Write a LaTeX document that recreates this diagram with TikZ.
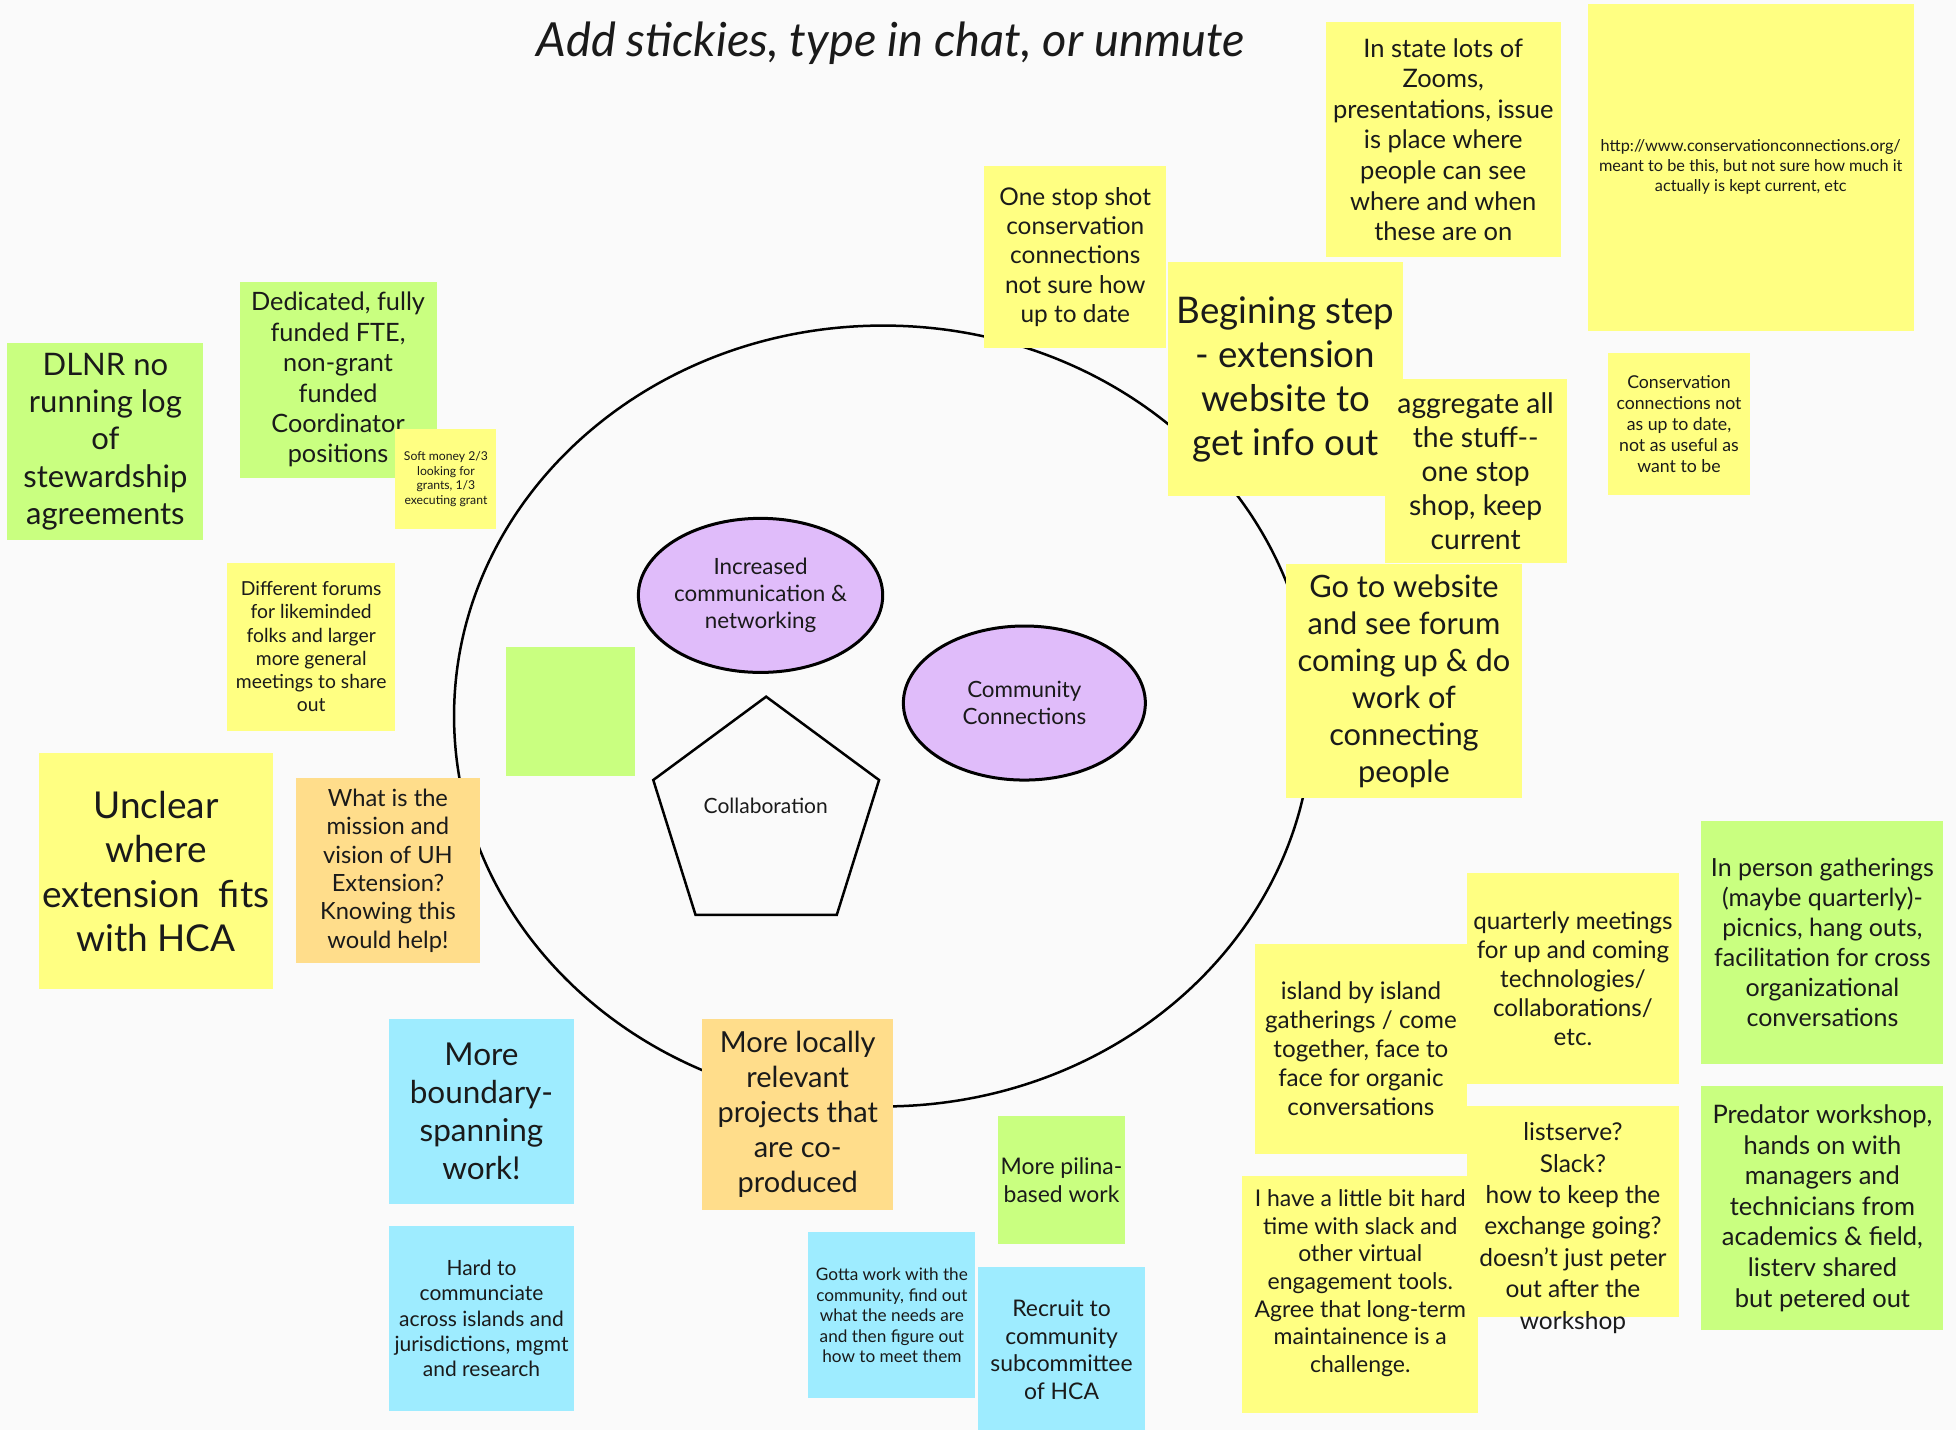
\documentclass[tikz,border=0pt]{standalone}
\usepackage{fontspec}
\setmainfont{Lato}
\usetikzlibrary{shapes.geometric}
\definecolor{bg}{RGB}{250,250,250}
\definecolor{sy}{RGB}{255,255,130}
\definecolor{sg}{RGB}{201,255,128}
\definecolor{sb}{RGB}{158,236,255}
\definecolor{so}{RGB}{255,221,139}
\definecolor{pu}{RGB}{224,188,250}
\definecolor{ink}{RGB}{26,26,26}
\tikzset{
  stickybox/.style={rectangle,draw=none,inner sep=0pt,outer sep=0pt},
  stickytext/.style={align=center,text=ink,inner sep=0pt,outer sep=0pt},
  theme/.style={ellipse,draw=black,line width=3pt,fill=pu,align=center,text=ink,inner sep=0pt,
    font={\fontsize{22.4}{27.4}\selectfont}},
  listserve-shift/.style={yshift=-9.5pt},
}
\newcommand\stk[9]{%
  \node[stickybox,fill=#2,minimum width={(#5-#3)*1.2474pt},minimum height={(#6-#4)*1.2474pt}]
    (#1) at ({(#3+#5)/2},{(#4+#6)/2}) {};
  \node[stickytext,font={\fontsize{#7}{#8}\selectfont},#1-shift/.try] (#1-t) at (#1.center) {#9};}
\begin{document}
\begin{tikzpicture}[x=1.2474pt,y=-1.2474pt]
\fill[bg] (0,0) rectangle (1568.07,1146.39);
\useasboundingbox (0,0) rectangle (1568.07,1146.39);

\node[font={\fontsize{47}{56}\selectfont\itshape},text=ink] (title) at (714,35) {Add stickies, type in chat, or unmute};

% big circle
\node[ellipse,draw=black,line width=2.5pt,minimum width={688*1.2474pt},minimum height={626*1.2474pt},inner sep=0pt] (big) at (708,574) {};

% themes
\node[theme,minimum width={194*1.2474pt},minimum height={123.5*1.2474pt}] (icn) at (609.7,477.3) {Increased\\communication \&\\networking};
\node[theme,minimum width={194*1.2474pt},minimum height={123.5*1.2474pt}] (cc) at (821.2,563.6) {Community\\Connections};

% pentagon
\coordinate (p1) at (614.2,558.5);
\coordinate (p2) at (704.7,625.3);
\coordinate (p3) at (670.8,733.5);
\coordinate (p4) at (557.6,733.5);
\coordinate (p5) at (523.7,625.3);
\draw[line width=2.5pt,line join=miter] (p1)--(p2)--(p3)--(p4)--(p5)--cycle;
\node[text=ink,font={\fontsize{21}{25}\selectfont}] (collab) at (613.9,646) {Collaboration};

% empty green sticky
\node[stickybox,fill=sg,minimum width={103.4*1.2474pt},minimum height={103.2*1.2474pt}] (blank) at (457,570.5) {};

% stickies
\stk{dlnr}{sg}{6}{275}{163}{433}{31}{37.4}{DLNR no\\running log\\of\\stewardship\\agreements}
\stk{fte}{sg}{192}{226}{350}{383}{25.3}{30.4}{Dedicated, fully\\funded FTE,\\non-grant\\funded\\Coordinator\\positions}
\stk{soft}{sy}{317}{344}{398}{424}{12.2}{14.6}{Soft money 2/3\\looking for\\grants, 1/3\\executing grant}
\stk{forums}{sy}{182}{451}{317}{586}{19.3}{23.2}{Different forums\\for likeminded\\folks and larger\\more general\\meetings to share\\out}
\stk{unclear}{sy}{31}{604}{219}{793}{37}{44.5}{Unclear\\where\\extension\ \ fits\\with HCA}
\stk{mission}{so}{237}{624}{385}{772}{23.7}{28.4}{What is the\\mission and\\vision of UH\\Extension?\\Knowing this\\would help!}
\stk{boundary}{sb}{312}{817}{460}{965}{31.5}{37.8}{More\\boundary-\\spanning\\work!}
\stk{hard}{sb}{312}{983}{460}{1131}{21}{25.3}{Hard to\\communciate\\across islands and\\jurisdictions, mgmt\\and research}
\stk{locally}{so}{563}{817}{716}{970}{29}{34.9}{More locally\\relevant\\projects that\\are co-\\produced}
\stk{pilina}{sg}{800}{895}{902}{997}{22.9}{27.4}{More pilina-\\based work}
\stk{gotta}{sb}{648}{988}{782}{1121}{17.2}{20.6}{Gotta work with the\\community, find out\\what the needs are\\and then figure out\\how to meet them}
\stk{recruit}{sb}{784}{1016}{918}{1148}{22.9}{27.4}{Recruit to\\community\\subcommittee\\of HCA}
\stk{onestop}{sy}{789}{133}{935}{279}{24.4}{29.3}{One stop shot\\conservation\\connections\\not sure how\\up to date}
\stk{instate}{sy}{1063}{18}{1251}{206}{25.5}{30.6}{In state lots of\\Zooms,\\presentations, issue\\is place where\\people can see\\where and when\\these are on}
\stk{url}{sy}{1273}{3}{1534}{265}{16.3}{20}{http://www.conservationconnections.org/\\meant to be this, but not sure how much it\\actually is kept current, etc}
\stk{begin}{sy}{936}{210}{1125}{398}{36.7}{44}{Begining step\\- extension\\website to\\get info out}
\stk{aggr}{sy}{1110}{304}{1256}{451}{28.3}{34}{aggregate all\\the stuff-{}-\\one stop\\shop, keep\\current}
\stk{cons}{sy}{1289}{283}{1403}{397}{17.7}{21.2}{Conservation\\connections not\\as up to date,\\not as useful as\\want to be}
\stk{goweb}{sy}{1031}{452}{1220}{640}{30.8}{36.9}{Go to website\\and see forum\\coming up \& do\\work of\\connecting\\people}
\stk{inperson}{sg}{1364}{658}{1558}{853}{25}{29.9}{In person gatherings\\(maybe quarterly)-\\picnics, hang outs,\\facilitation for cross\\organizational\\conversations}
\stk{quarterly}{sy}{1176}{700}{1346}{869}{24.2}{29}{quarterly meetings\\for up and coming\\technologies/\\collaborations/\\etc.}
\stk{island}{sy}{1006}{757}{1176}{925}{24.2}{29}{island by island\\gatherings / come\\together, face to\\face for organic\\conversations}
\stk{predator}{sg}{1364}{871}{1558}{1066}{25.5}{30.6}{Predator workshop,\\hands on with\\managers and\\technicians from\\academics \& field,\\listerv shared\\but petered out}
\stk{ihave}{sy}{996}{943}{1185}{1133}{23}{27.7}{I have a little bit hard\\time with slack and\\other virtual\\engagement tools.\\Agree that long-term\\maintainence is a\\challenge.\\\mbox{}}
\stk{listserve}{sy}{1176}{887}{1346}{1056}{24.5}{31.4}{\mbox{}\\listserve?\\Slack?\\how to keep the\\exchange going?\\doesn’t just peter\\out after the\\workshop}
\end{tikzpicture}
\end{document}
